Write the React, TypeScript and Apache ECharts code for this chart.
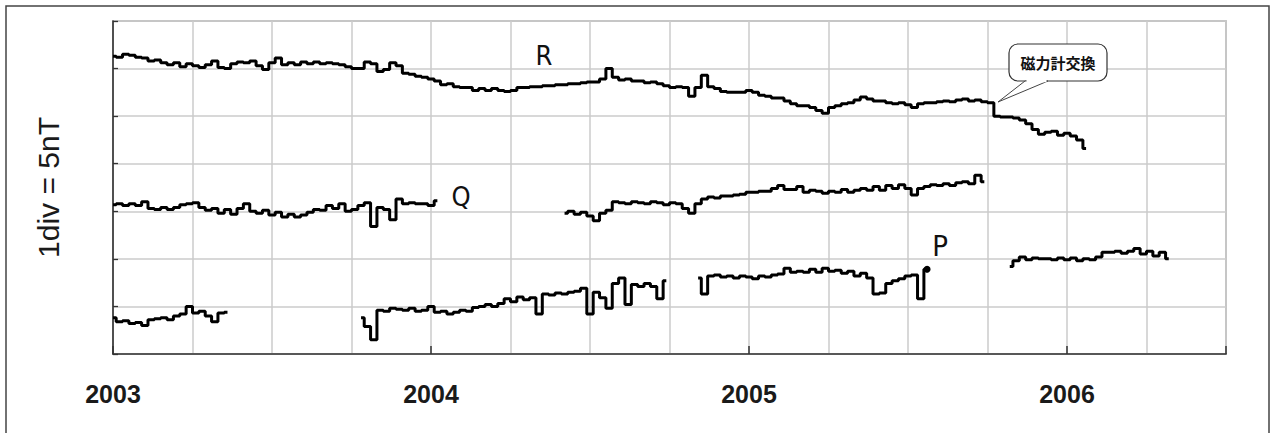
import React, { useEffect, useRef } from 'react';
import * as echarts from 'echarts';

// sampling step of the records, in years
const STEP = 0.02;

// R record (nT, one value every STEP years from rStart)
const rStart = 2003.0;
const rValues = [
  31.3, 31.2, 31.5, 31.4, 31.2, 31.1, 30.8, 30.9, 30.6, 30.4,
  30.6, 30.2, 30.5, 30.3, 30.1, 30.4, 30.8, 30.1, 30.0, 30.5,
  30.7, 30.6, 30.8, 30.3, 29.9, 30.6, 31.1, 30.4, 30.6, 30.4,
  30.7, 30.5, 30.7, 30.5, 30.6, 30.5, 30.4, 30.2, 30.0, 30.0,
  30.7, 30.5, 29.7, 29.9, 30.6, 30.3, 29.5, 29.4, 29.2, 29.1,
  28.9, 28.7, 28.3, 28.4, 28.1, 28.0, 28.0, 27.7, 27.9, 27.7,
  27.9, 27.7, 27.6, 27.7, 28.0, 28.0, 28.1, 28.1, 28.2, 28.2,
  28.3, 28.3, 28.4, 28.4, 28.5, 28.6, 28.6, 28.9, 30.0, 29.1,
  28.8, 28.9, 28.7, 28.7, 28.5, 28.6, 28.4, 28.2, 28.0, 28.1,
  28.0, 27.1, 28.0, 29.3, 28.1, 27.9, 27.6, 27.5, 27.5, 27.5,
  27.7, 27.5, 27.2, 27.1, 26.9, 26.9, 26.6, 26.3, 26.1, 26.1,
  25.9, 25.6, 25.3, 25.9, 26.1, 26.3, 26.4, 26.7, 27.0, 26.8,
  26.6, 26.6, 26.4, 26.3, 26.4, 26.2, 25.9, 26.3, 26.4, 26.4,
  26.5, 26.6, 26.5, 26.7, 26.8, 26.6, 26.7, 26.5, 26.4, 25.0,
  24.9, 24.9, 24.8, 24.6, 24.2, 23.6, 23.1, 23.3, 23.4, 23.0,
  23.2, 22.9, 22.5, 21.6,
];

// Q record, two segments
const q1Start = 2003.0;
const q1Values = [
  15.7, 15.8, 15.6, 15.8, 15.6, 16.0, 15.3, 15.2, 15.4, 15.2,
  15.4, 15.7, 15.8, 15.9, 15.4, 15.1, 15.3, 14.8, 15.2, 14.7,
  15.3, 15.8, 15.0, 14.8, 15.1, 14.6, 14.9, 14.4, 14.7, 14.4,
  14.6, 14.9, 15.2, 15.1, 15.6, 15.3, 15.8, 15.0, 15.2, 15.6,
  15.9, 13.4, 15.4, 15.2, 14.1, 16.3, 15.8, 15.9, 15.8, 15.8,
  15.6, 16.1,
];
const q2Start = 2004.42;
const q2Values = [
  14.8, 15.0, 14.7, 14.9, 14.5, 14.0, 14.8, 15.1, 16.0, 15.9,
  15.8, 16.0, 15.9, 15.8, 16.0, 15.9, 15.7, 15.9, 15.8, 15.3,
  14.8, 15.8, 16.3, 16.5, 16.4, 16.6, 16.6, 16.7, 16.8, 17.0,
  17.0, 17.1, 17.1, 17.4, 17.7, 17.3, 17.3, 17.6, 17.0, 17.2,
  17.1, 16.9, 17.1, 17.0, 17.3, 17.0, 17.2, 17.4, 17.2, 17.6,
  17.2, 17.7, 17.4, 17.8, 17.4, 16.7, 17.4, 17.6, 17.8, 17.7,
  17.9, 17.7, 18.0, 18.1, 17.9, 18.8, 18.1,
];

// P record, four segments
const p1Start = 2003.0;
const p1Values = [3.8, 3.4, 3.5, 3.2, 3.3, 3.0, 3.6, 3.7, 3.8, 3.6, 4.0, 4.2, 5.0, 4.3, 4.5, 4.0, 3.4, 4.3, 4.4];
const p2Start = 2003.78;
const p2Values = [
  3.8, 2.9, 1.5, 4.6, 4.5, 4.8, 4.7, 4.6, 4.8, 4.5,
  4.6, 5.0, 4.4, 4.5, 4.2, 4.4, 4.6, 4.5, 4.9, 5.0,
  5.2, 5.0, 5.3, 5.8, 5.5, 6.0, 5.7, 5.9, 4.2, 6.3,
  6.2, 6.4, 6.3, 6.5, 6.6, 6.9, 4.2, 6.5, 5.9, 4.8,
  7.4, 8.0, 5.2, 7.3, 7.1, 7.4, 7.1, 5.8, 7.7,
];
const p3Start = 2004.84;
const p3Values = [
  8.0, 6.3, 8.2, 8.3, 8.1, 8.2, 8.0, 8.2, 8.1, 7.9,
  8.2, 8.1, 8.3, 8.4, 9.0, 8.6, 8.7, 8.6, 8.9, 8.6,
  9.0, 8.7, 8.8, 8.5, 8.7, 8.2, 8.5, 8.0, 6.3, 6.4,
  7.4, 7.7, 7.9, 8.2, 8.3, 5.8, 8.9,
];
const p4Start = 2005.82;
const p4Values = [
  9.2, 9.8, 10.2, 9.9, 10.1, 10.0, 10.0, 9.9, 10.1, 9.9,
  10.1, 9.8, 10.0, 9.9, 10.2, 10.7, 10.7, 10.8, 10.6, 10.8,
  11.1, 10.5, 10.8, 10.3, 10.7, 10.0,
];

const yearLabels = [2003, 2004, 2005, 2006];
const X_MIN = 2003;
const X_MAX = 2006.5;
const Y_MIN = 0;
const Y_MAX = 35;
const Y_DIV = 5;

const toPoints = (start: number, vals: number[]) =>
  vals.map((v, i) => [Number((start + i * STEP).toFixed(4)), v]);

const segments = [
  toPoints(rStart, rValues),
  toPoints(q1Start, q1Values),
  toPoints(q2Start, q2Values),
  toPoints(p1Start, p1Values),
  toPoints(p2Start, p2Values),
  toPoints(p3Start, p3Values),
  toPoints(p4Start, p4Values),
];
const p3Points = segments[5];
const p3End = p3Points[p3Points.length - 1];

const FONT = "'Liberation Sans', Arial, Helvetica, sans-serif";
const NARROW = "'Liberation Sans Narrow', 'DejaVu Sans Condensed', 'Roboto Condensed', sans-serif";

export default function App() {
  const ref = useRef<HTMLDivElement>(null);
  useEffect(() => {
    const chart = echarts.init(ref.current as HTMLDivElement, null, { renderer: 'svg' });
    const lineSeries = segments.map((pts) => ({
      type: 'line',
      xAxisIndex: 0,
      yAxisIndex: 0,
      data: pts,
      step: 'middle',
      showSymbol: false,
      silent: true,
      lineStyle: { color: '#000', width: 3 },
      z: 3,
    }));
    chart.setOption({
      animation: false,
      backgroundColor: '#fff',
      grid: {
        left: 113,
        right: 50,
        top: 21,
        bottom: 79,
        show: true,
        borderColor: '#a0a0a0',
        borderWidth: 1.5,
        backgroundColor: 'transparent',
      },
      xAxis: [
        {
          type: 'value',
          min: X_MIN,
          max: X_MAX,
          interval: 0.25,
          axisLine: { show: true, onZero: false, lineStyle: { color: '#333', width: 1.6 } },
          axisTick: { show: false },
          axisLabel: { show: false },
          splitLine: { show: true, lineStyle: { color: '#cbcbcb', width: 1.5 } },
        },
        {
          type: 'value',
          min: X_MIN,
          max: X_MAX,
          interval: 1,
          position: 'bottom',
          axisLine: { show: false },
          axisTick: { show: true, inside: true, length: 8, lineStyle: { color: '#333', width: 1.5 } },
          splitLine: { show: false },
          axisLabel: {
            show: true,
            margin: 27,
            fontSize: 25,
            fontWeight: 'bold',
            fontFamily: FONT,
            color: '#1a1a1a',
            formatter: (v: number) => (yearLabels.indexOf(v) >= 0 ? String(v) : ''),
          },
        },
      ],
      yAxis: {
        type: 'value',
        min: Y_MIN,
        max: Y_MAX,
        interval: Y_DIV,
        name: '1div = 5nT',
        nameLocation: 'middle',
        nameRotate: 90,
        nameGap: 50,
        nameTextStyle: { fontSize: 30, fontFamily: FONT, color: '#1a1a1a' },
        axisLine: { show: true, lineStyle: { color: '#333', width: 1.6 } },
        axisTick: { show: true, inside: true, length: 5, lineStyle: { color: '#333', width: 1.3 } },
        axisLabel: { show: false },
        splitLine: { show: true, lineStyle: { color: '#cbcbcb', width: 1.5 } },
      },
      series: [
        ...lineSeries,
        {
          type: 'scatter',
          data: [p3End],
          symbol: 'circle',
          symbolSize: 7,
          itemStyle: { color: '#000', opacity: 1 },
          silent: true,
          z: 4,
        },
      ],
      graphic: [
        {
          type: 'rect',
          shape: { x: 6, y: 6, width: 1263, height: 440 },
          style: { fill: 'none', stroke: '#444', lineWidth: 1.5 },
          silent: true,
        },
        {
          type: 'text',
          style: { x: 544, y: 55, text: 'R', fontSize: 27, fontFamily: NARROW, fill: '#111', textAlign: 'center', textVerticalAlign: 'middle' },
        },
        {
          type: 'text',
          style: { x: 461, y: 196, text: 'Q', fontSize: 27, fontFamily: NARROW, fill: '#111', textAlign: 'center', textVerticalAlign: 'middle' },
        },
        {
          type: 'text',
          style: { x: 940, y: 246, text: 'P', fontSize: 29, fontFamily: NARROW, fill: '#111', textAlign: 'center', textVerticalAlign: 'middle' },
        },
        {
          type: 'rect',
          z: 100,
          shape: { x: 1009, y: 44, width: 98, height: 37, r: 9 },
          style: { fill: '#fff', stroke: '#333', lineWidth: 1.2 },
        },
        {
          type: 'polygon',
          z: 101,
          shape: { points: [[1025, 81], [998, 102], [1048, 81]] },
          style: { fill: '#fff', stroke: '#444', lineWidth: 1 },
        },
        {
          type: 'line',
          z: 102,
          shape: { x1: 1026.5, y1: 81, x2: 1046.5, y2: 81 },
          style: { stroke: '#fff', lineWidth: 2.5 },
        },
        {
          type: 'text',
          z: 103,
          style: {
            x: 1058, y: 62, text: '磁力計交換', fontSize: 15, fontWeight: 'bold',
            fontFamily: "'Noto Sans CJK JP', 'Noto Sans CJK SC', sans-serif",
            fill: '#111', textAlign: 'center', textVerticalAlign: 'middle',
          },
        },
      ],
    });
    return () => chart.dispose();
  }, []);
  return (
    <div
      ref={ref}
      style={{ position: 'absolute', left: 0, top: 0, width: 1276, height: 433, background: '#fff' }}
    />
  );
}
